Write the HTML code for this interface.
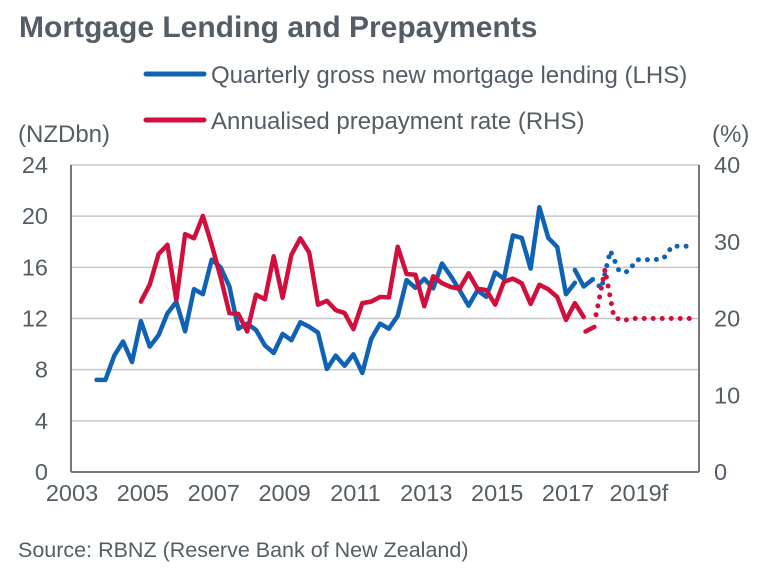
<!DOCTYPE html>
<html><head><meta charset="utf-8">
<style>
body{margin:0;background:#fff;}
svg{display:block;font-family:"Liberation Sans",Arial,sans-serif;}
</style></head>
<body>
<svg id="chart" width="763" height="571" viewBox="0 0 763 571" xmlns="http://www.w3.org/2000/svg">
<text x="19" y="37" font-size="30" font-weight="bold" fill="#545d66">Mortgage Lending and Prepayments</text>
<line x1="146" y1="74" x2="204" y2="74" stroke="#0f62b4" stroke-width="5" stroke-linecap="round"/>
<text x="211" y="83" font-size="24" fill="#545d66">Quarterly gross new mortgage lending (LHS)</text>
<line x1="146" y1="120" x2="204" y2="120" stroke="#d20f3c" stroke-width="5" stroke-linecap="round"/>
<text x="211" y="129" font-size="24" fill="#545d66">Annualised prepayment rate (RHS)</text>
<text x="18" y="142" font-size="24" fill="#545d66">(NZDbn)</text>
<text x="712" y="142" font-size="24" fill="#545d66">(%)</text>
<g id="grid"></g>
<g id="series"></g>
<g id="axes"></g>
<text x="18" y="557" font-size="21.5" fill="#545d66">Source: RBNZ (Reserve Bank of New Zealand)</text>
</svg>
<script>
const leftTicks = [0, 4, 8, 12, 16, 20, 24];
const rightTicks = [0, 10, 20, 30, 40];
const yearLabels = ["2003","2005","2007","2009","2011","2013","2015","2017","2019f"];
const yearPositions = [2003,2005,2007,2009,2011,2013,2015,2017,2019];
const firstQuarter = 2003.75;
// Lending (NZDbn), quarterly
const lendingActual = [7.2,7.2,9.1,10.2,8.6,11.8,9.8,10.7,12.4,13.3,11.0,14.3,13.9,16.6,16.0,14.5,11.2,11.6,11.1,9.9,9.3,10.8,10.3,11.7,11.35,10.9,8.05,9.1,8.3,9.2,7.75,10.4,11.6,11.2,12.2,15.0,14.4,15.1,14.35,16.3,15.3,14.2,13.0,14.2,13.7,15.6,15.1,18.5,18.3,15.9,20.7,18.3,17.6,13.9,14.8];
const lendingActualStart = 0;
const lendingRecent = [15.8,14.5,15.05];
const lendingRecentStart = 54;
const lendingForecast = [15.05,14.35,17.3,15.7,15.65,16.6,16.6,16.6,16.7,17.65,17.65,17.65];
const lendingForecastStart = 56;
// Prepayment rate (%)
const prepayActual = [22.2,24.4,28.4,29.6,22.4,31.0,30.45,33.35,29.6,25.4,20.7,20.6,18.3,23.1,22.5,28.1,22.7,28.3,30.45,28.6,21.8,22.3,21.1,20.7,18.6,22.0,22.2,22.8,22.75,29.35,25.8,25.7,21.6,25.5,24.6,24.1,23.9,25.9,23.9,23.7,21.8,24.8,25.2,24.6,21.9,24.4,23.8,22.8,19.8,22.0,20.2];
const prepayActualStart = 5;
const prepayRecent = [18.3,18.9];
const prepayRecentStart = 55.2;
const prepayForecast = [20.5,26.4,20.2,19.7,20.0,20.0,20.0,20.0,20.0,20.0,20.0,20.0];
const prepayForecastStart = 56.4;

const NS = "http://www.w3.org/2000/svg";
const X0 = 71, X1 = 699, YT = 165, YB = 472;
function xYear(t){ return 70 + (t - 2003) * 35.43; }
function xIdx(i){ return xYear(firstQuarter + i * 0.25); }
function yL(v){ return YB - (v / 24) * (YB - YT); }
function yR(v){ return YB - (v / 40) * (YB - YT); }
function mk(tag, attrs, parent){ const e = document.createElementNS(NS, tag); for (const k in attrs) e.setAttribute(k, attrs[k]); parent.appendChild(e); return e; }

const grid = document.getElementById("grid");
const axes = document.getElementById("axes");
const series = document.getElementById("series");

leftTicks.forEach(v => {
  if (v > 0) {
    const g = mk("line", {x1: X0, x2: X1, y1: yL(v), y2: yL(v), stroke: "#c8c8c8", "stroke-width": 1.5}, grid);
    
    
  }
  const t = mk("text", {x: 48, y: yL(v) + 8, "text-anchor": "end", "font-size": 23.5, fill: "#545d66"}, axes);
  t.textContent = v;
  
  
});
rightTicks.forEach(v => {
  const t = mk("text", {x: 714, y: yR(v) + 8, "font-size": 23.5, fill: "#545d66"}, axes);
  t.textContent = v;
  
  
});
yearLabels.forEach((lab, i) => {
  const t = mk("text", {x: xYear(yearPositions[i]) + 2, y: 501, "text-anchor": "middle", "font-size": 23.5, fill: "#545d66"}, axes);
  t.textContent = lab;
  
  
});
const la = mk("line", {x1: X0, x2: X0, y1: YT, y2: YB, stroke: "#777", "stroke-width": 2}, axes);


const ra = mk("line", {x1: X1, x2: X1, y1: YT, y2: YB, stroke: "#777", "stroke-width": 2}, axes);


const ba = mk("line", {x1: X0, x2: X1, y1: YB, y2: YB, stroke: "#777", "stroke-width": 2}, axes);



function line(vals, start, yf, color, dotted, name){
  const pts = vals.map((v, i) => xIdx(start + i).toFixed(1) + "," + yf(v).toFixed(1)).join(" ");
  const attrs = {points: pts, fill: "none", stroke: color, "stroke-width": dotted ? 5 : 4.5, "stroke-linejoin": "round", "stroke-linecap": "round"};
  if (dotted) attrs["stroke-dasharray"] = "0 9";
  const p = mk("polyline", attrs, series);
  
  
}
line(lendingActual, lendingActualStart, yL, "#0f62b4", false, "lending-line");
line(lendingRecent, lendingRecentStart, yL, "#0f62b4", false, "lending-recent-line");
line(lendingForecast, lendingForecastStart, yL, "#0f62b4", true, "lending-forecast-line");
line(prepayActual, prepayActualStart, yR, "#d20f3c", false, "prepayment-line");
line(prepayRecent, prepayRecentStart, yR, "#d20f3c", false, "prepayment-recent-line");
line(prepayForecast, prepayForecastStart, yR, "#d20f3c", true, "prepayment-forecast-line");
</script>
</body></html>
